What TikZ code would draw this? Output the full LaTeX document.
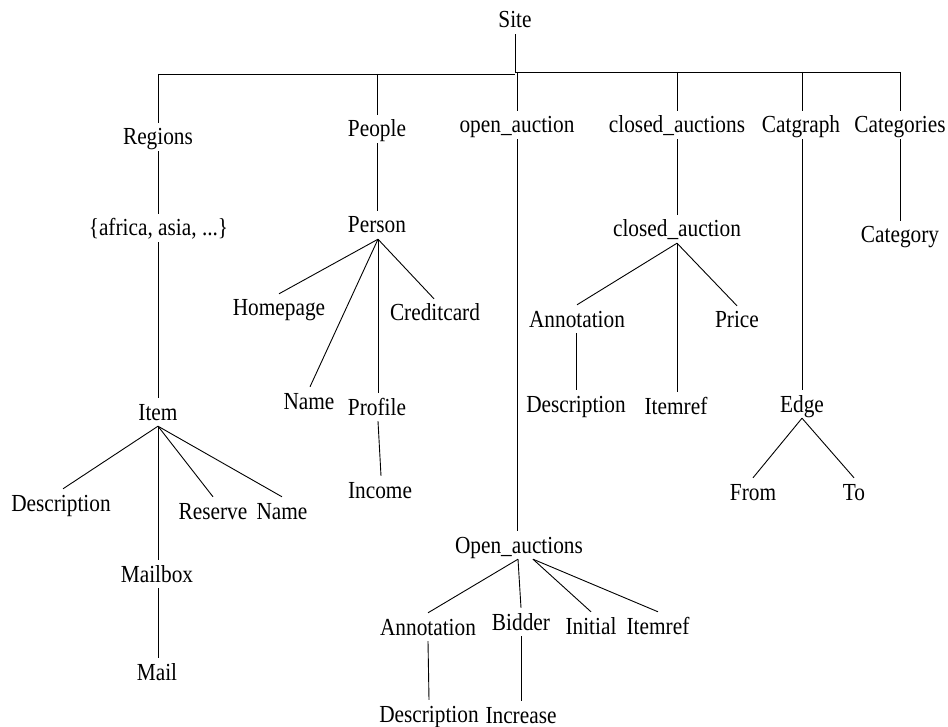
\documentclass[tikz,border=0pt]{standalone}
\usepackage{fontspec}
\setmainfont[FakeStretch=0.87]{Liberation Serif}
\usetikzlibrary{calc}
\begin{document}
\begin{tikzpicture}[x=1pt,y=-1pt,
  lbl/.style={inner xsep=2pt,inner ysep=6pt,font=\fontsize{24.5}{26}\selectfont,text height=16pt,text depth=0pt},
  edge/.style={draw=black,line width=0.9pt}]
\useasboundingbox (0,0) rectangle (948,727);
% level 0
\node[lbl] (site) at (515,20) {Site};
% level 1
\node[lbl] (regions) at (158,137) {Regions};
\node[lbl] (people) at (377,129) {People};
\node[lbl] (openauc) at (517,125) {open\_auction};
\node[lbl] (closedaucs) at (677,125) {closed\_auctions};
\node[lbl] (catgraph) at (801,125) {Catgraph};
\node[lbl] (categories) at (900,125) {Categories};
% Regions branch
\node[lbl] (africa) at (158.5,228) {\{africa, asia, ...\}};
\node[lbl] (item) at (158,412) {Item};
\node[lbl] (desc1) at (61,503) {Description};
\node[lbl] (reserve) at (213,511) {Reserve};
\node[lbl] (name1) at (282,511) {Name};
\node[lbl] (mailbox) at (157,574) {Mailbox};
\node[lbl] (mail) at (157,672) {Mail};
% People branch
\node[lbl] (person) at (377,225) {Person};
\node[lbl] (homepage) at (279,308) {Homepage};
\node[lbl] (name2) at (309,401) {Name};
\node[lbl] (profile) at (377,407) {Profile};
\node[lbl] (creditcard) at (435,313) {Creditcard};
\node[lbl] (income) at (380,490) {Income};
% open auction branch
\node[lbl] (openaucs) at (519,545) {Open\_auctions};
\node[lbl] (annot2) at (428,627) {Annotation};
\node[lbl] (bidder) at (521,622) {Bidder};
\node[lbl] (initial) at (591,626) {Initial};
\node[lbl] (itemref2) at (658,626) {Itemref};
\node[lbl] (desc3) at (429,714) {Description};
\node[lbl] (increase) at (521,715) {Increase};
% closed auctions branch
\node[lbl] (closedauc) at (677,229) {closed\_auction};
\node[lbl] (annot1) at (577,319) {Annotation};
\node[lbl] (price) at (737,320) {Price};
\node[lbl] (desc2) at (576,404) {Description};
\node[lbl] (itemref1) at (676,406) {Itemref};
% catgraph branch
\node[lbl] (edgeN) at (802,404) {Edge};
\node[lbl] (from) at (753,492) {From};
\node[lbl] (to) at (854,492) {To};
% categories branch
\node[lbl] (category) at (900,235) {Category};
% bar
\coordinate (bS) at (515,72);
\coordinate (bM) at (515,74);
\coordinate (bR) at (158,74);
\coordinate (bP) at (377,74);
\coordinate (bO) at (517,72);
\coordinate (bC) at (677,72);
\coordinate (bG) at (802,72);
\coordinate (bK) at (900,72);
\draw[edge] (site.south) -- (bS);
\draw[edge] (bR) -- (bM);
\draw[edge] (bS) -- (bK);
\draw[edge] (bR) -- (bR |- regions.north);
\draw[edge] (bP) -- (bP |- people.north);
\draw[edge] (bO) -- (bO |- openauc.north);
\draw[edge] (bC) -- (bC |- closedaucs.north);
\draw[edge] (bG) -- (bG |- catgraph.north);
\draw[edge] (bK) -- (bK |- categories.north);
% Regions
\draw[edge] (regions.south -| bR) -- (africa.north -| bR);
\draw[edge] (africa.south -| bR) -- (item.north -| bR);
\coordinate (itemB) at (item.south);
\draw[edge] (itemB) -- ($(desc1.north)+(2,0)$);
\draw[edge] (itemB) -- (mailbox.north -| itemB);
\draw[edge] (itemB) -- (reserve.north);
\draw[edge] (itemB) -- (name1.north);
\draw[edge] (mailbox.south -| itemB) -- (mail.north -| itemB);
% People
\draw[edge] (people.south) -- (person.north);
\coordinate (personB) at ($(person.south)+(1,0)$);
\draw[edge] (personB) -- (homepage.north);
\draw[edge] (personB) -- ($(name2.north)+(1,0)$);
\draw[edge] (personB) -- (personB |- profile.north);
\draw[edge] (personB) -- ($(creditcard.north)+(-1,0)$);
\draw[edge] ($(profile.south)+(1,0)$) -- ($(income.north)+(1,0)$);
% open auction
\draw[edge] (openauc.south -| bO) -- (openaucs.north -| bO);
\coordinate (oaL) at ($(openaucs.south)+(-1,0)$);
\coordinate (oaR) at ($(openaucs.south)+(14,0)$);
\draw[edge] (oaL) -- (annot2.north);
\draw[edge] (oaL) -- (bidder.north);
\draw[edge] (oaR) -- (initial.north);
\draw[edge] (oaR) -- (itemref2.north);
\draw[edge] (annot2.south) -- (desc3.north);
\draw[edge] (bidder.south) -- (increase.north);
% closed auctions
\draw[edge] (closedaucs.south) -- (closedauc.north);
\draw[edge] (closedauc.south) -- (annot1.north);
\draw[edge] (closedauc.south) -- (closedauc.south |- itemref1.north);
\draw[edge] (closedauc.south) -- (price.north);
\draw[edge] (annot1.south -| desc2) -- (desc2.north);
% catgraph
\draw[edge] (catgraph.south -| bG) -- (edgeN.north -| bG);
\draw[edge] (edgeN.south) -- (from.north);
\draw[edge] (edgeN.south) -- (to.north);
% categories
\draw[edge] (bK |- categories.south) -- (bK |- category.north);
\end{tikzpicture}
\end{document}
